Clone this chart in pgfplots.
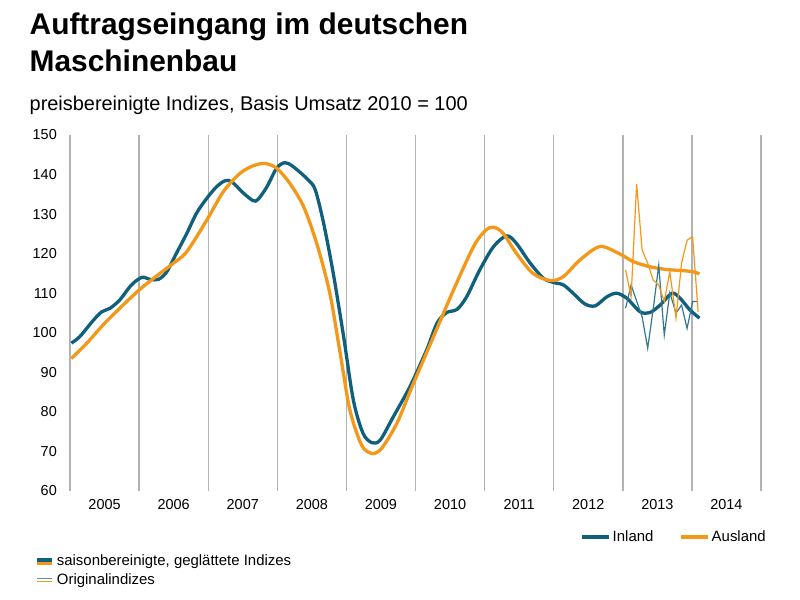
\documentclass[border=0pt]{standalone}
\usepackage{pgfplots}
\pgfplotsset{compat=1.18}
\usepackage{fontspec}
\setmainfont{Liberation Sans}
\definecolor{inl}{RGB}{15,95,125}
\definecolor{aus}{RGB}{243,152,25}
\definecolor{gridc}{RGB}{178,178,178}

\pgfplotstableread{
x y
2005.02 97.4
2005.14 99.0
2005.34 103.2
2005.46 105.3
2005.58 106.2
2005.72 108.3
2005.89 112.1
2006.04 114.0
2006.16 113.5
2006.28 113.5
2006.40 115.4
2006.54 120.1
2006.69 125.1
2006.83 130.2
2006.98 134.0
2007.12 136.9
2007.24 138.4
2007.34 138.2
2007.51 135.3
2007.65 133.4
2007.72 133.7
2007.85 136.9
2007.99 141.6
2008.11 143.0
2008.23 142.0
2008.45 138.6
2008.55 136.1
2008.67 127.7
2008.81 115.0
2008.96 99.0
2009.10 83.0
2009.24 74.6
2009.37 72.2
2009.49 72.9
2009.68 78.8
2009.92 86.4
2010.16 95.6
2010.31 102.4
2010.45 105.1
2010.60 105.9
2010.74 109.1
2010.93 115.9
2011.13 121.8
2011.32 124.5
2011.46 122.6
2011.66 117.6
2011.85 113.8
2012.00 112.7
2012.14 112.1
2012.28 110.0
2012.45 107.3
2012.60 106.8
2012.77 109.1
2012.91 110.0
2013.06 108.7
2013.25 105.3
2013.39 105.1
2013.54 107.0
2013.71 110.0
2013.83 108.7
2013.97 105.8
2014.11 103.7
}\inland

\pgfplotstableread{
x y
2005.02 93.5
2005.24 97.3
2005.48 102.0
2005.72 106.2
2006.00 110.8
2006.25 114.3
2006.49 117.5
2006.69 120.5
2006.98 128.5
2007.22 135.7
2007.46 140.3
2007.65 142.2
2007.82 142.8
2007.99 141.6
2008.18 137.8
2008.38 131.9
2008.57 122.6
2008.76 110.0
2008.91 94.8
2009.05 80.5
2009.22 71.6
2009.37 69.5
2009.51 70.8
2009.73 77.1
2009.97 87.2
2010.26 99.0
2010.55 110.8
2010.84 121.8
2011.01 125.8
2011.13 126.7
2011.27 125.1
2011.46 120.1
2011.70 115.0
2011.95 113.2
2012.14 114.2
2012.38 118.4
2012.67 121.8
2012.96 119.9
2013.15 118.0
2013.39 116.7
2013.63 116.0
2013.88 115.7
2014.02 115.4
2014.11 114.9
}\ausland

\pgfplotstableread{
x y
2013.04 106.2
2013.12 112.1
2013.20 108.0
2013.28 104.0
2013.36 96.1
2013.44 106.0
2013.52 117.1
2013.60 99.4
2013.68 110.1
2013.77 105.0
2013.85 107.0
2013.93 101.1
2014.01 107.9
2014.09 107.9
}\inlandorig

\pgfplotstableread{
x y
2013.04 115.9
2013.12 109.1
2013.20 137.6
2013.28 120.9
2013.36 117.6
2013.44 113.3
2013.52 112.1
2013.60 107.9
2013.68 115.4
2013.77 103.7
2013.85 117.6
2013.93 123.4
2014.01 124.3
2014.09 105.3
}\auslandorig

\begin{document}
\begin{tikzpicture}[x=1bp,y=1bp]
\useasboundingbox (0,0) rectangle (800,600);
\node[anchor=base west, inner sep=0pt, font=\fontsize{30}{36}\selectfont\bfseries] at (29.5,565) {Auftragseingang im deutschen};
\node[anchor=base west, inner sep=0pt, font=\fontsize{30}{36}\selectfont\bfseries] at (29.5,528.5) {Maschinenbau};
\node[anchor=base west, inner sep=0pt, font=\fontsize{20}{24}\selectfont] at (29.5,489) {preisbereinigte Indizes, Basis Umsatz 2010 = 100};

\begin{axis}[
  at={(70bp,109bp)}, anchor=south west,
  scale only axis, width=691bp, height=356bp,
  xmin=2005, xmax=2015, ymin=60, ymax=150,
  axis line style={draw=none},
  xtick={2005,2006,...,2015}, xticklabels={},
  xmajorgrids, grid style={draw=gridc, line width=1.4bp},
  major tick length=0pt,
  ytick={60,70,...,150},
  /pgf/number format/assume math mode=true,
  yticklabel style={font=\fontsize{14.5}{17}\selectfont, anchor=east, inner sep=0pt, xshift=-13bp},
  extra x ticks={2005.5,2006.5,2007.5,2008.5,2009.5,2010.5,2011.5,2012.5,2013.5,2014.5},
  extra x tick labels={2005,2006,2007,2008,2009,2010,2011,2012,2013,2014},
  extra x tick style={grid=none, major tick length=0pt,
     xticklabel style={font=\fontsize{14.5}{17}\selectfont, anchor=base, inner sep=0pt, yshift=-19bp}},
  legend style={at={(1.01,-0.129)}, anchor=east, draw=none, fill=none,
     legend columns=2, font=\fontsize{15}{18}\selectfont, inner sep=0pt,
     /tikz/every even column/.append style={column sep=24bp}},
  legend cell align=left,
  legend image code/.code={\draw[#1] (0bp,0bp) -- (27bp,0bp);},
]
\addplot[color=inl, line width=3.3bp, smooth, tension=0.5] table[x=x,y=y] {\inland};
\addlegendentry{Inland}
\addplot[color=aus, line width=3.3bp, smooth, tension=0.5] table[x=x,y=y] {\ausland};
\addlegendentry{Ausland}
\addplot[color=inl!85!white, line width=1.2bp, forget plot] table[x=x,y=y] {\inlandorig};
\addplot[color=aus, line width=1.2bp, forget plot] table[x=x,y=y] {\auslandorig};
\end{axis}

% key for line types
\draw[inl, line width=3.2bp] (37,40) -- (52,40);
\draw[aus, line width=3.2bp] (37,36.3) -- (52,36.3);
\node[anchor=west, inner sep=0pt, font=\fontsize{15}{18}\selectfont] at (56.7,38) {saisonbereinigte, geglättete Indizes};
\draw[inl!70!white, line width=1.1bp] (37,21.7) -- (52,21.7);
\draw[aus, line width=1.1bp] (37,18.2) -- (52,18.2);
\node[anchor=west, inner sep=0pt, font=\fontsize{15}{18}\selectfont] at (56.7,19.5) {Originalindizes};
\end{tikzpicture}
\end{document}
